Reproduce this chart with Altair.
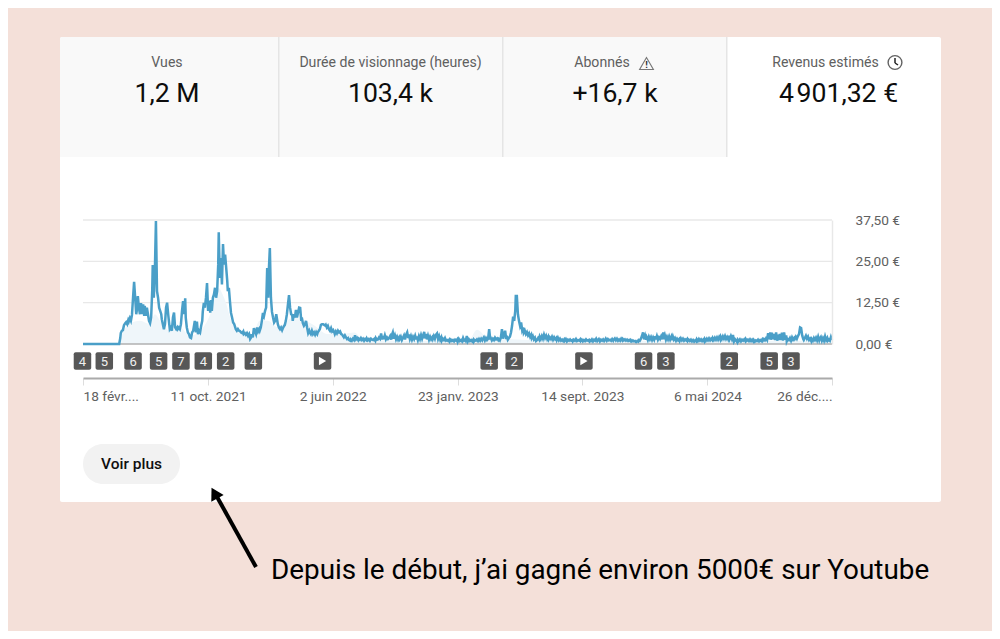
import altair as alt
import pandas as pd

PAGE = "#f4e0d9"
start = pd.Timestamp("2021-02-18")
span_days = 1407

tab_titles = ["Vues", "Durée de visionnage (heures)", "Abonnés", "Revenus estimés"]
tab_values = ["1,2 M", "103,4 k", "+16,7 k", "4\u200a901,32 €"]
tick_dates = ["2021-02-18", "2021-10-11", "2022-06-02", "2023-01-23", "2023-09-14", "2024-05-06", "2024-12-26"]
tick_labels = ["18 févr....", "11 oct. 2021", "2 juin 2022", "23 janv. 2023", "14 sept. 2023", "6 mai 2024", "26 déc...."]
y_ticks = [0, 12.5, 25, 37.5]
badge_days = [-1, 40, 94, 142, 184, 226, 268, 320, 763, 810, 1053, 1095, 1214, 1289, 1330]
badge_text = ["4", "5", "6", "5", "7", "4", "2", "4", "4", "2", "6", "3", "2", "5", "3"]
play_days = [450, 941]

revenue = [
 0,0,0,0,0,0,0,
 0,0,0,0,0,0,0,0,0,0,
 0,0,0,0,0,0,0,0,0,0,
 0,0,0,0,0,0,0,0,0,0,
 1.8,3.3,4,4.2,5.7,6.2,6.6,6,7.2,6.8,
 7.8,7,8.8,14,18.8,14,9,10,14.5,11,
 9,12.4,9,12,8.5,11.5,8.5,11,9,7,
 6.3,8,16,23.9,14,22,37.2,16,14,11,
 10,9,7.5,6,4.5,6,11,12.5,9,6,
 4.5,5,4,8,9.5,5,4.5,5,4.5,5,
 4.5,6,10,13,9,13.8,8,5,3.5,3,
 2,1.8,3.5,4,6,7,3.5,6.8,3,4,
 3.5,5.5,7,9.8,12.4,11,14,18.4,10,13,
 9.5,13.3,10,14,15,17,14,16,24,33.8,
 20,26,18,30.2,24,27,23,19,16,17,
 13,9.4,8,6.5,6,5,4.5,4,4.5,4,
 3.9,3.5,3.3,3.8,3,3.3,2.8,3.3,2.5,3,
 1.5,2,3,2,4.8,3.8,3,5,3.8,4.5,
 4,5,7,9.4,8.5,10,11,23,14,22,
 29,14,9.7,8,6.5,7,9,8,6,5,
 4.5,5,4.2,5,5.5,5.7,7,9,12,14.8,
 11,9,8.8,7,9,8,10.3,8,9.5,11,
 10.9,7,8,6.3,5.5,6,7,5,3.3,4,
 3.5,3,4,3,3.5,2.8,3.6,3,3.5,4,
 4.5,5.8,6,6,5.8,5.6,5.8,5,5.5,4.5,
 4,4.8,3.8,4.2,3.5,3,3.8,3.2,4,3.5,
 3.8,3,2.8,2.5,2,2.6,2,1.5,1.8,1.2,
 1,1.4,1,1.6,1.2,2.6,1.4,1.8,1.2,1.6,
 1.3,1.8,1.2,1.6,1,1.5,1.2,1.7,1.1,1.5,
 1,1.6,1.3,1.2,1.5,1,1.8,1.3,1.4,2,
 1.6,3.2,1.4,2.4,1.5,2.6,1.4,2,1.5,1.8,
 2.4,1.3,2.6,3.5,1.6,2.6,1.4,2.2,1.3,2,
 1.5,2.2,1.2,1.9,2.6,1.4,2.8,3.5,1.8,2.9,
 1.5,2.4,1.3,2.2,1.5,2.5,1.4,2.3,1.2,2.4,
 1.5,2.7,1.6,2.6,3.7,1.7,3,1.4,2.5,1.3,
 2.2,1.4,2,1.5,2.4,1.6,2.8,3.2,1.5,2.4,
 1.3,2,1,1.6,1.2,1.8,1,1.2,0.9,1.3,
 0.8,1.3,0.9,1.2,0.8,1.3,1,1.4,0.7,1.5,
 0.9,1.2,0.8,1.8,1,1.3,1,2.4,0.8,1.4,
 0.9,1.2,0.8,1.3,0.7,1.2,1,1.4,0.9,1.5,
 1,1.6,1.1,1.5,2,1.1,1.8,1.2,1.6,4.5,
 1.3,1.8,1.1,1.6,1.2,1.9,1.4,1.7,1.2,1.5,
 1.1,2,4.5,1.6,3,4,1.5,2.5,1.3,1.8,
 2.2,3.5,5.5,8.3,7,10,14.5,14.5,9,7,
 5.5,6.5,4.2,5,3.4,4,3,3.6,2.6,3.2,
 2.2,2.8,1.8,2.4,1.4,1.9,0.9,1.2,1.8,1.3,
 2.2,1.5,2.4,1.6,2.8,1.8,2.5,1.5,2.2,1.4,
 2,1.5,2.2,1.3,2,1.4,1.8,1.2,1.9,1.1,
 1.6,1,1.3,0.9,1.4,1,1.5,0.8,1.3,1,
 1.4,1,1.2,0.8,1.3,1,1.5,0.9,1.2,1,
 1.4,0.9,1.3,0.8,1.2,0.9,1.4,1,1.2,0.8,
 1.2,0.9,1.4,0.8,1.3,1,1.6,0.9,1.1,1.5,
 0.8,1.3,1,1.4,0.9,1.3,1.6,1,1.5,1.1,
 1.3,1,1.5,1,1.3,1.7,1.1,1.6,1,1.4,
 1,1.6,1.1,1.5,1.1,1.4,1,1.3,0.9,1.2,
 0.9,1.2,0.8,1.1,0.8,0.9,0.6,0.9,0.7,1.2,
 1,1.6,2.4,3.5,1.4,2.5,1.3,2,1.2,2.2,
 1.4,2.1,1.2,2,1.3,2.3,1.4,2.4,1.3,2,
 1.5,2.3,1.4,3.5,1.5,2.6,1.3,2.2,1.4,2.3,
 1.3,2.1,1.2,2.3,1.3,1.8,1,1.6,1.1,1.5,
 1,1.7,1.1,1.6,1,1.4,1.1,1.5,0.9,1.3,
 0.9,1.3,0.8,1.2,0.7,1.1,0.8,1.4,0.9,1.5,
 1,1.4,0.9,1.3,0.8,1.5,1,1.6,1.1,1.7,
 1.1,1.6,1.2,1.8,1.2,1.9,1.3,2,1.3,2.1,
 1.4,2.2,1.5,2.3,1.6,2.4,1.5,2.1,1.4,2.5,
 1.6,2.4,1.5,2.7,0.8,1.4,1,0.5,1.3,0.9,
 1.4,0.8,1.3,1,1.4,0.9,1.5,1,1.3,0.9,
 1.4,0.9,1.3,0.8,1.2,0.7,1.1,0.9,1.3,0.8,
 1.2,0.9,1.4,1,1.5,1.1,1.7,1.2,3.3,1.4,
 3.5,1.3,3.4,1.4,3,1.2,3.5,1,2.8,1.2,
 3,1.2,3.4,1,3.5,1.3,2.6,0.8,1.5,1.2,
 1.8,1,2,1.3,1.8,1.5,2.2,1.6,2.4,3,
 5,4.8,2.6,1.5,1.2,1.8,2.5,1.6,2.2,1.2,
 1.6,0.9,1.5,1,1.8,1.2,1.9,1.1,2.2,1.1,
 1.6,2.1,1,1.8,1,2.3,1.2,1.8,1,1.4,
 1,2.1,1.2,
]
# smoothed trend drawn as the pale fill
trend_days = [0, 68, 73, 88, 107, 126, 135, 145, 163, 182, 201, 220, 239, 254, 265, 284, 303, 317, 332, 347, 366, 395, 431, 460, 485, 510, 525, 550, 600, 620, 640, 725, 740, 760, 900, 1000, 1407]
trend_vals = [0, 0, 3, 6, 7, 6, 9, 7, 4, 5, 2.5, 4, 9, 17, 14, 5, 3, 2.5, 7, 7, 5, 8, 6, 3, 3, 3.5, 1.5, 1.2, 1, 1, 1, 1.2, 4.3, 2, 1, 1, 1]

to_date = lambda d: (start + pd.Timedelta(days=int(d))).strftime("%Y-%m-%d")
step = span_days / (len(revenue) - 1)
line_df = pd.DataFrame({"date": [to_date(round(i * step)) for i in range(len(revenue))], "value": revenue})
area_df = pd.DataFrame({"date": [to_date(d) for d in trend_days], "value": trend_vals})
badge_df = pd.DataFrame({"date": [to_date(d) for d in badge_days], "label": badge_text})
play_df = pd.DataFrame({"date": [to_date(d) for d in play_days]})
grid_df = pd.DataFrame({"value": y_ticks[1:]})
base_df = pd.DataFrame({"value": y_ticks[:1]})

OX, OY = 83, 220   # page position of the plot area
one = alt.Data(values=[{}])

def px(v): return alt.value(v - OX)
def py(v): return alt.value(v - OY)

def box(x0, x1, y0, y1, color, **kw):
    return alt.Chart(one).mark_rect(color=color, **kw).encode(x=px(x0), x2=px(x1), y=py(y0), y2=py(y1))

def seg(x0, y0, x1, y1, color, width):
    return alt.Chart(one).mark_rule(color=color, strokeWidth=width).encode(x=px(x0), x2=px(x1), y=py(y0), y2=py(y1))

def label(x, y, text, size, color, align="center", weight=400):
    return alt.Chart(one).mark_text(font="Roboto", fontSize=size, color=color, align=align, baseline="middle",
                                    fontWeight=weight).encode(x=px(x), y=py(y), text=alt.value(text))

def icon(x, y, shape, size, **kw):
    return alt.Chart(one).mark_point(shape=shape, size=size, **kw).encode(x=px(x), y=py(y))

FONT_GREY = "#606060"
layers = [
    box(60, 941, 37, 502, "#ffffff", cornerRadius=2),
    box(60, 726, 37, 157, "#f9f9f9", cornerRadiusTopLeft=2),
    box(278, 279.5, 37, 157, "#e5e5e5"),
    box(502, 503.5, 37, 157, "#e5e5e5"),
    box(726, 727.5, 37, 157, "#e5e5e5"),
]
title_centers = [167, 390.5, 602, 825.5]
value_centers = [167, 390.5, 615, 838.5]
for tx, vx, title, value in zip(title_centers, value_centers, tab_titles, tab_values):
    layers.append(label(tx, 62.5, title, 14.1, FONT_GREY))
    layers.append(label(vx, 93.5, value, 26.6, "#0d0d0d"))

# warning and clock icons
layers += [
    icon(646.5, 63.5, "triangle-up", 190, stroke="#404040", strokeWidth=1.1, filled=False),
    label(646.5, 65, "!", 9.5, "#303030", weight=700),
    icon(895, 62.5, "circle", 190, stroke="#202020", strokeWidth=1.4, filled=False),
    seg(895, 58, 895, 63, "#202020", 1.5),
    seg(895, 63, 898, 65, "#202020", 1.5),
]

x_enc = alt.X(
    "date:T",
    scale=alt.Scale(type="utc", domain=[tick_dates[0], tick_dates[-1]]),
    axis=alt.Axis(
        values=tick_dates, title=None, grid=False, offset=34, zindex=1,
        domainColor="#aaaaaa", domainWidth=2, tickColor="#dddddd", tickSize=7, tickWidth=1,
        labelFont="Roboto", labelFontSize=13.7, labelColor=FONT_GREY, labelPadding=4, labelFlush=True,
        labelOverlap=False,
        labelExpr="{" + ",".join(f"'{d}':'{t}'" for d, t in zip(tick_dates, tick_labels)) + "}[utcFormat(datum.value,'%Y-%m-%d')]",
    ),
)
y_scale = alt.Scale(domain=[0, 37.5], nice=False)
y_enc = alt.Y(
    "value:Q", scale=y_scale,
    axis=alt.Axis(
        orient="right", values=y_ticks, title=None, grid=False, ticks=False, zindex=1,
        domainColor="#e8e8e8", domainWidth=1.5,
        labelFont="Roboto", labelFontSize=13.7, labelColor=FONT_GREY, labelPadding=23,
        labelExpr="replace(format(datum.value,'.2f'),'.',',')+' €'",
    ),
)
layers += [
    alt.Chart(grid_df).mark_rule(color="#e8e8e8", strokeWidth=1.3).encode(y=y_enc),
    alt.Chart(area_df).mark_area(color="#eff6fa", interpolate="monotone").encode(x=x_enc, y=y_enc),
    alt.Chart(base_df).mark_rule(color="#b0b0b0", strokeWidth=1.6).encode(y=y_enc),
    alt.Chart(line_df).mark_line(color="#4a9fc8", strokeWidth=2.5).encode(x=x_enc, y=y_enc),
    alt.Chart(badge_df).mark_rect(width=17.5, height=17.5, cornerRadius=2, color="#575757").encode(x=x_enc, y=py(361)),
    alt.Chart(badge_df).mark_text(font="Roboto", fontSize=13, color="#f0f0f0", baseline="middle").encode(x=x_enc, y=py(361.5), text="label:N"),
    alt.Chart(play_df).mark_rect(width=17.5, height=17.5, cornerRadius=2, color="#575757").encode(x=x_enc, y=py(361)),
    alt.Chart(play_df).mark_point(shape="triangle-right", size=70, filled=True, color="#ffffff", opacity=1).encode(x=x_enc, y=py(361)),
    box(83, 180, 444, 484, "#f2f2f2", cornerRadius=20),
    label(131.5, 464, "Voir plus", 15.5, "#0f0f0f", weight=500),
    seg(256, 567, 216, 495, "#000000", 4),
    icon(214.5, 493, "triangle-up", 200, filled=True, color="#000000", opacity=1, angle=331),
    label(271, 571, "Depuis le début, j’ai gagné environ 5000€ sur Youtube", 27.85, "#000000", align="left"),
]

chart = alt.layer(*layers).properties(
    width=749, height=124,
    padding={"left": 75, "top": 212, "right": 160, "bottom": 287},
    autosize=alt.AutoSizeParams(type="none"),
    background=PAGE,
).configure_view(stroke=None)

chart.save("out.html", embed_options={"renderer": "svg", "actions": False})
